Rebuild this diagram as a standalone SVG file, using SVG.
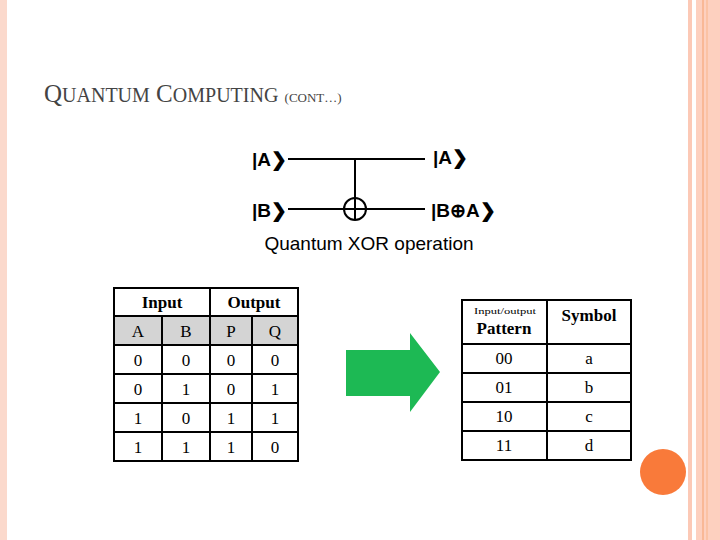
<svg xmlns="http://www.w3.org/2000/svg" width="720" height="540" viewBox="0 0 720 540">
<style>
.t{font-family:"Liberation Serif",serif;fill:#000;font-size:17px;text-anchor:middle}
.b{font-weight:bold}
.c{font-family:"Liberation Sans",Arial,sans-serif;font-weight:bold;font-size:19px}
.g{stroke:#000;stroke-width:2;fill:none}
</style>
<rect width="720" height="540" fill="#fff"/>
<rect x="0" y="0" width="7" height="540" fill="#fbd9cc"/>
<rect x="688" y="0" width="4" height="540" fill="#fcc9b6"/>
<rect x="696" y="0" width="24" height="540" fill="#fdd0bf"/>
<rect x="702" y="0" width="2" height="540" fill="#f9b896"/>
<rect x="706" y="0" width="2" height="540" fill="#fbc2a4"/>
<circle cx="663" cy="472" r="23" fill="#f97a3a"/>
<text x="44" y="102" font-family="Liberation Serif,serif" fill="#444" font-size="25">Q<tspan font-size="20">UANTUM</tspan> C<tspan font-size="20">OMPUTING</tspan> <tspan font-size="13">(CONT…)</tspan></text>
<g id="circuit">
<line x1="288" y1="159" x2="425" y2="159" class="g" stroke-width="1.5"/>
<line x1="288" y1="209" x2="425" y2="209" class="g" stroke-width="1.5"/>
<line x1="355" y1="159" x2="355" y2="220" class="g" stroke-width="1.5"/>
<circle cx="355" cy="209" r="11" class="g" stroke-width="1.5"/>
<text x="252" y="166" class="c">|A❯</text>
<text x="252" y="217" class="c">|B❯</text>
<text x="433" y="164" class="c">|A❯</text>
<text x="431" y="217" class="c">|B⊕A❯</text>
<text x="369" y="250" font-family="Liberation Sans,Arial,sans-serif" font-size="19" text-anchor="middle">Quantum XOR operation</text>
</g>
<g id="truth-table">
<rect x="114" y="316" width="184" height="29" fill="#d4d4d4"/>
<g stroke="#000" stroke-width="2" fill="none">
<rect x="114" y="288" width="184" height="173"/>
<line x1="114" y1="316" x2="298" y2="316"/><line x1="114" y1="345" x2="298" y2="345"/>
<line x1="114" y1="374" x2="298" y2="374"/><line x1="114" y1="403" x2="298" y2="403"/><line x1="114" y1="432" x2="298" y2="432"/>
<line x1="210" y1="288" x2="210" y2="461"/><line x1="162" y1="316" x2="162" y2="461"/><line x1="252" y1="316" x2="252" y2="461"/>
</g>
<text x="162" y="308" class="t b">Input</text><text x="254" y="308" class="t b">Output</text>
<text x="138" y="337" class="t">A</text><text x="186" y="337" class="t">B</text><text x="231" y="337" class="t">P</text><text x="275" y="337" class="t">Q</text>
<text x="138" y="366" class="t">0</text><text x="186" y="366" class="t">0</text><text x="231" y="366" class="t">0</text><text x="275" y="366" class="t">0</text>
<text x="138" y="395" class="t">0</text><text x="186" y="395" class="t">1</text><text x="231" y="395" class="t">0</text><text x="275" y="395" class="t">1</text>
<text x="138" y="424" class="t">1</text><text x="186" y="424" class="t">0</text><text x="231" y="424" class="t">1</text><text x="275" y="424" class="t">1</text>
<text x="138" y="453" class="t">1</text><text x="186" y="453" class="t">1</text><text x="231" y="453" class="t">1</text><text x="275" y="453" class="t">0</text>
</g>
<g id="arrow"><polygon points="346,350 410,350 410,333 440,372 410,412 410,396 346,396" fill="#1db954"/></g>
<g id="symbol-table">
<g stroke="#000" stroke-width="2" fill="none">
<rect x="462" y="300" width="169" height="160"/>
<line x1="462" y1="344" x2="631" y2="344"/><line x1="462" y1="373" x2="631" y2="373"/>
<line x1="462" y1="402" x2="631" y2="402"/><line x1="462" y1="431" x2="631" y2="431"/>
<line x1="547" y1="300" x2="547" y2="460"/>
</g>
<text x="474" y="314" font-family="Liberation Serif,serif" font-size="9" textLength="62" lengthAdjust="spacingAndGlyphs">Input/output</text>
<text x="504" y="334" class="t b">Pattern</text>
<text x="589" y="321" class="t b">Symbol</text>
<text x="504" y="364" class="t">00</text><text x="589" y="364" class="t">a</text>
<text x="504" y="393" class="t">01</text><text x="589" y="393" class="t">b</text>
<text x="504" y="422" class="t">10</text><text x="589" y="422" class="t">c</text>
<text x="504" y="451" class="t">11</text><text x="589" y="451" class="t">d</text>
</g>
</svg>
